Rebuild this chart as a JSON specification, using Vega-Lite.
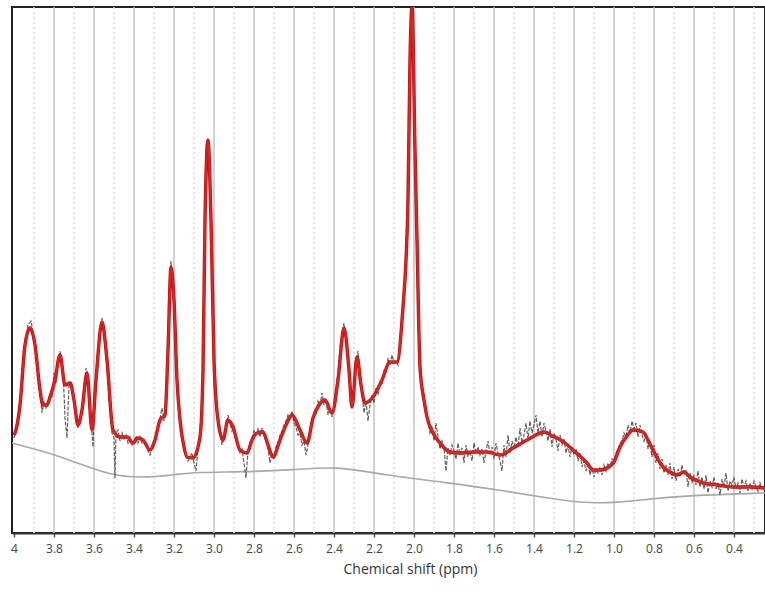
{
  "$schema": "https://vega.github.io/schema/vega-lite/v6.json",
  "width": 753,
  "height": 526,
  "autosize": {"type": "none"},
  "padding": {"left": 12, "top": 7, "right": 0, "bottom": 62},
  "background": "white",
  "config": {
    "view": {"stroke": "#222", "strokeWidth": 2},
    "font": "Open Sans"
  },
  "datasets": {
    "grid": [
      {"ppm": 3.9, "kind": "minor"}, {"ppm": 3.8, "kind": "major"}, {"ppm": 3.7, "kind": "minor"}, {"ppm": 3.6, "kind": "major"},
      {"ppm": 3.5, "kind": "minor"}, {"ppm": 3.4, "kind": "major"}, {"ppm": 3.3, "kind": "minor"}, {"ppm": 3.2, "kind": "major"},
      {"ppm": 3.1, "kind": "minor"}, {"ppm": 3.0, "kind": "major"}, {"ppm": 2.9, "kind": "minor"}, {"ppm": 2.8, "kind": "major"},
      {"ppm": 2.7, "kind": "minor"}, {"ppm": 2.6, "kind": "major"}, {"ppm": 2.5, "kind": "minor"}, {"ppm": 2.4, "kind": "major"},
      {"ppm": 2.3, "kind": "minor"}, {"ppm": 2.2, "kind": "major"}, {"ppm": 2.1, "kind": "minor"}, {"ppm": 2.0, "kind": "major"},
      {"ppm": 1.9, "kind": "minor"}, {"ppm": 1.8, "kind": "major"}, {"ppm": 1.7, "kind": "minor"}, {"ppm": 1.6, "kind": "major"},
      {"ppm": 1.5, "kind": "minor"}, {"ppm": 1.4, "kind": "major"}, {"ppm": 1.3, "kind": "minor"}, {"ppm": 1.2, "kind": "major"},
      {"ppm": 1.1, "kind": "minor"}, {"ppm": 1.0, "kind": "major"}, {"ppm": 0.9, "kind": "minor"}, {"ppm": 0.8, "kind": "major"},
      {"ppm": 0.7, "kind": "minor"}, {"ppm": 0.6, "kind": "major"}, {"ppm": 0.5, "kind": "minor"}, {"ppm": 0.4, "kind": "major"},
      {"ppm": 0.3, "kind": "minor"}
    ],
    "base": [
      {"ppm": 4.01, "y": 90}, {"ppm": 3.82, "y": 80}, {"ppm": 3.685, "y": 70}, {"ppm": 3.52, "y": 58}, {"ppm": 3.37, "y": 55},
      {"ppm": 3.2, "y": 58}, {"ppm": 3.095, "y": 61}, {"ppm": 2.855, "y": 61}, {"ppm": 2.605, "y": 63}, {"ppm": 2.385, "y": 67},
      {"ppm": 2.155, "y": 58}, {"ppm": 1.82, "y": 50}, {"ppm": 1.57, "y": 43}, {"ppm": 1.37, "y": 36}, {"ppm": 1.17, "y": 30},
      {"ppm": 0.985, "y": 30}, {"ppm": 0.785, "y": 35}, {"ppm": 0.57, "y": 38}, {"ppm": 0.245, "y": 40}
    ],
    "fit": [
      {"ppm": 4.0, "y": 98}, {"ppm": 3.995, "y": 100}, {"ppm": 3.97, "y": 128}, {"ppm": 3.945, "y": 188}, {"ppm": 3.92, "y": 205},
      {"ppm": 3.895, "y": 188}, {"ppm": 3.87, "y": 143}, {"ppm": 3.855, "y": 128}, {"ppm": 3.835, "y": 128}, {"ppm": 3.82, "y": 136},
      {"ppm": 3.795, "y": 153}, {"ppm": 3.77, "y": 178}, {"ppm": 3.745, "y": 148}, {"ppm": 3.72, "y": 150}, {"ppm": 3.7, "y": 133},
      {"ppm": 3.68, "y": 108}, {"ppm": 3.66, "y": 123}, {"ppm": 3.635, "y": 160}, {"ppm": 3.61, "y": 103}, {"ppm": 3.59, "y": 153},
      {"ppm": 3.56, "y": 211}, {"ppm": 3.535, "y": 173}, {"ppm": 3.505, "y": 103}, {"ppm": 3.47, "y": 96}, {"ppm": 3.435, "y": 96},
      {"ppm": 3.405, "y": 90}, {"ppm": 3.38, "y": 95}, {"ppm": 3.355, "y": 93}, {"ppm": 3.32, "y": 83}, {"ppm": 3.295, "y": 93},
      {"ppm": 3.27, "y": 113}, {"ppm": 3.245, "y": 118}, {"ppm": 3.23, "y": 183}, {"ppm": 3.215, "y": 266}, {"ppm": 3.2, "y": 233},
      {"ppm": 3.185, "y": 153}, {"ppm": 3.17, "y": 113}, {"ppm": 3.15, "y": 86}, {"ppm": 3.135, "y": 76}, {"ppm": 3.105, "y": 75},
      {"ppm": 3.07, "y": 96}, {"ppm": 3.055, "y": 163}, {"ppm": 3.045, "y": 313}, {"ppm": 3.03, "y": 393}, {"ppm": 3.015, "y": 313},
      {"ppm": 3.0, "y": 173}, {"ppm": 2.98, "y": 113}, {"ppm": 2.955, "y": 93}, {"ppm": 2.93, "y": 113}, {"ppm": 2.905, "y": 106},
      {"ppm": 2.87, "y": 83}, {"ppm": 2.835, "y": 80}, {"ppm": 2.81, "y": 93}, {"ppm": 2.785, "y": 100}, {"ppm": 2.755, "y": 101},
      {"ppm": 2.73, "y": 88}, {"ppm": 2.705, "y": 76}, {"ppm": 2.67, "y": 93}, {"ppm": 2.64, "y": 108}, {"ppm": 2.61, "y": 118},
      {"ppm": 2.57, "y": 103}, {"ppm": 2.535, "y": 90}, {"ppm": 2.505, "y": 115}, {"ppm": 2.475, "y": 128}, {"ppm": 2.445, "y": 133},
      {"ppm": 2.41, "y": 120}, {"ppm": 2.38, "y": 153}, {"ppm": 2.35, "y": 205}, {"ppm": 2.325, "y": 163}, {"ppm": 2.31, "y": 126},
      {"ppm": 2.285, "y": 176}, {"ppm": 2.265, "y": 148}, {"ppm": 2.245, "y": 130}, {"ppm": 2.205, "y": 136}, {"ppm": 2.16, "y": 153},
      {"ppm": 2.12, "y": 171}, {"ppm": 2.085, "y": 171}, {"ppm": 2.055, "y": 226}, {"ppm": 2.04, "y": 273}, {"ppm": 2.03, "y": 333},
      {"ppm": 2.02, "y": 473}, {"ppm": 2.01, "y": 526}, {"ppm": 1.995, "y": 383}, {"ppm": 1.985, "y": 293}, {"ppm": 1.97, "y": 166},
      {"ppm": 1.95, "y": 133}, {"ppm": 1.935, "y": 116}, {"ppm": 1.905, "y": 100}, {"ppm": 1.87, "y": 90}, {"ppm": 1.82, "y": 81},
      {"ppm": 1.77, "y": 80}, {"ppm": 1.705, "y": 81}, {"ppm": 1.635, "y": 81}, {"ppm": 1.57, "y": 78}, {"ppm": 1.505, "y": 85},
      {"ppm": 1.435, "y": 93}, {"ppm": 1.345, "y": 101}, {"ppm": 1.31, "y": 97}, {"ppm": 1.285, "y": 95}, {"ppm": 1.245, "y": 90},
      {"ppm": 1.205, "y": 83}, {"ppm": 1.135, "y": 70}, {"ppm": 1.105, "y": 63}, {"ppm": 1.07, "y": 63}, {"ppm": 1.035, "y": 65},
      {"ppm": 1.0, "y": 71}, {"ppm": 0.97, "y": 86}, {"ppm": 0.935, "y": 97}, {"ppm": 0.905, "y": 103}, {"ppm": 0.855, "y": 101},
      {"ppm": 0.83, "y": 93}, {"ppm": 0.805, "y": 83}, {"ppm": 0.755, "y": 66}, {"ppm": 0.72, "y": 61}, {"ppm": 0.685, "y": 58},
      {"ppm": 0.65, "y": 61}, {"ppm": 0.62, "y": 56}, {"ppm": 0.57, "y": 51}, {"ppm": 0.485, "y": 48}, {"ppm": 0.405, "y": 46},
      {"ppm": 0.32, "y": 46}, {"ppm": 0.245, "y": 45}
    ],
    "raw": [
      {"ppm": 4.0, "y": 95}, {"ppm": 3.99, "y": 104}, {"ppm": 3.975, "y": 120}, {"ppm": 3.96, "y": 150}, {"ppm": 3.945, "y": 190},
      {"ppm": 3.93, "y": 208}, {"ppm": 3.915, "y": 212}, {"ppm": 3.9, "y": 195}, {"ppm": 3.885, "y": 170}, {"ppm": 3.87, "y": 140},
      {"ppm": 3.86, "y": 120}, {"ppm": 3.85, "y": 132}, {"ppm": 3.84, "y": 125}, {"ppm": 3.83, "y": 130}, {"ppm": 3.82, "y": 140},
      {"ppm": 3.81, "y": 135}, {"ppm": 3.8, "y": 160}, {"ppm": 3.79, "y": 150}, {"ppm": 3.78, "y": 168}, {"ppm": 3.77, "y": 182},
      {"ppm": 3.76, "y": 170}, {"ppm": 3.75, "y": 140}, {"ppm": 3.745, "y": 115}, {"ppm": 3.735, "y": 95}, {"ppm": 3.725, "y": 148},
      {"ppm": 3.715, "y": 150}, {"ppm": 3.7, "y": 130}, {"ppm": 3.69, "y": 118}, {"ppm": 3.68, "y": 105}, {"ppm": 3.67, "y": 115},
      {"ppm": 3.66, "y": 125}, {"ppm": 3.65, "y": 145}, {"ppm": 3.64, "y": 165}, {"ppm": 3.63, "y": 158}, {"ppm": 3.62, "y": 120},
      {"ppm": 3.61, "y": 100}, {"ppm": 3.605, "y": 86}, {"ppm": 3.595, "y": 140}, {"ppm": 3.58, "y": 175}, {"ppm": 3.57, "y": 200},
      {"ppm": 3.56, "y": 215}, {"ppm": 3.55, "y": 205}, {"ppm": 3.54, "y": 180}, {"ppm": 3.53, "y": 150}, {"ppm": 3.52, "y": 120},
      {"ppm": 3.51, "y": 100}, {"ppm": 3.5, "y": 95}, {"ppm": 3.495, "y": 55}, {"ppm": 3.49, "y": 100}, {"ppm": 3.48, "y": 103},
      {"ppm": 3.47, "y": 92}, {"ppm": 3.46, "y": 100}, {"ppm": 3.45, "y": 94}, {"ppm": 3.44, "y": 98}, {"ppm": 3.43, "y": 90},
      {"ppm": 3.42, "y": 96}, {"ppm": 3.41, "y": 88}, {"ppm": 3.4, "y": 92}, {"ppm": 3.39, "y": 97}, {"ppm": 3.38, "y": 90},
      {"ppm": 3.37, "y": 96}, {"ppm": 3.36, "y": 90}, {"ppm": 3.35, "y": 93}, {"ppm": 3.34, "y": 88}, {"ppm": 3.33, "y": 82},
      {"ppm": 3.32, "y": 78}, {"ppm": 3.31, "y": 88}, {"ppm": 3.3, "y": 92}, {"ppm": 3.29, "y": 96}, {"ppm": 3.28, "y": 106},
      {"ppm": 3.27, "y": 115}, {"ppm": 3.26, "y": 125}, {"ppm": 3.25, "y": 112}, {"ppm": 3.24, "y": 120}, {"ppm": 3.23, "y": 180},
      {"ppm": 3.22, "y": 260}, {"ppm": 3.215, "y": 272}, {"ppm": 3.21, "y": 255}, {"ppm": 3.2, "y": 230}, {"ppm": 3.19, "y": 180},
      {"ppm": 3.18, "y": 140}, {"ppm": 3.17, "y": 110}, {"ppm": 3.16, "y": 95}, {"ppm": 3.15, "y": 84}, {"ppm": 3.14, "y": 78},
      {"ppm": 3.13, "y": 72}, {"ppm": 3.12, "y": 76}, {"ppm": 3.11, "y": 80}, {"ppm": 3.1, "y": 70}, {"ppm": 3.09, "y": 62},
      {"ppm": 3.08, "y": 85}, {"ppm": 3.07, "y": 98}, {"ppm": 3.06, "y": 130}, {"ppm": 3.05, "y": 230}, {"ppm": 3.04, "y": 340},
      {"ppm": 3.03, "y": 392}, {"ppm": 3.02, "y": 350}, {"ppm": 3.01, "y": 280}, {"ppm": 3.0, "y": 175}, {"ppm": 2.99, "y": 130},
      {"ppm": 2.98, "y": 108}, {"ppm": 2.97, "y": 98}, {"ppm": 2.96, "y": 88}, {"ppm": 2.95, "y": 96}, {"ppm": 2.94, "y": 104},
      {"ppm": 2.93, "y": 118}, {"ppm": 2.92, "y": 110}, {"ppm": 2.91, "y": 102}, {"ppm": 2.9, "y": 108}, {"ppm": 2.89, "y": 95},
      {"ppm": 2.88, "y": 86}, {"ppm": 2.87, "y": 80}, {"ppm": 2.86, "y": 84}, {"ppm": 2.85, "y": 70}, {"ppm": 2.84, "y": 55},
      {"ppm": 2.83, "y": 82}, {"ppm": 2.82, "y": 88}, {"ppm": 2.81, "y": 95}, {"ppm": 2.8, "y": 102}, {"ppm": 2.79, "y": 98},
      {"ppm": 2.78, "y": 104}, {"ppm": 2.77, "y": 96}, {"ppm": 2.76, "y": 105}, {"ppm": 2.75, "y": 98}, {"ppm": 2.74, "y": 92},
      {"ppm": 2.73, "y": 84}, {"ppm": 2.72, "y": 70}, {"ppm": 2.71, "y": 80}, {"ppm": 2.7, "y": 74}, {"ppm": 2.69, "y": 86},
      {"ppm": 2.68, "y": 90}, {"ppm": 2.67, "y": 98}, {"ppm": 2.66, "y": 102}, {"ppm": 2.65, "y": 108}, {"ppm": 2.64, "y": 112},
      {"ppm": 2.63, "y": 118}, {"ppm": 2.62, "y": 114}, {"ppm": 2.61, "y": 122}, {"ppm": 2.6, "y": 110}, {"ppm": 2.59, "y": 106},
      {"ppm": 2.58, "y": 98}, {"ppm": 2.57, "y": 100}, {"ppm": 2.56, "y": 88}, {"ppm": 2.55, "y": 92}, {"ppm": 2.54, "y": 78},
      {"ppm": 2.53, "y": 88}, {"ppm": 2.52, "y": 102}, {"ppm": 2.51, "y": 112}, {"ppm": 2.5, "y": 120}, {"ppm": 2.49, "y": 118},
      {"ppm": 2.48, "y": 132}, {"ppm": 2.47, "y": 128}, {"ppm": 2.46, "y": 140}, {"ppm": 2.45, "y": 128}, {"ppm": 2.44, "y": 134},
      {"ppm": 2.43, "y": 118}, {"ppm": 2.42, "y": 124}, {"ppm": 2.41, "y": 116}, {"ppm": 2.4, "y": 130}, {"ppm": 2.39, "y": 145},
      {"ppm": 2.38, "y": 160}, {"ppm": 2.37, "y": 185}, {"ppm": 2.36, "y": 200}, {"ppm": 2.35, "y": 210}, {"ppm": 2.34, "y": 195},
      {"ppm": 2.33, "y": 170}, {"ppm": 2.32, "y": 140}, {"ppm": 2.31, "y": 125}, {"ppm": 2.3, "y": 140}, {"ppm": 2.29, "y": 170},
      {"ppm": 2.28, "y": 182}, {"ppm": 2.27, "y": 160}, {"ppm": 2.26, "y": 140}, {"ppm": 2.25, "y": 120}, {"ppm": 2.24, "y": 132},
      {"ppm": 2.23, "y": 112}, {"ppm": 2.22, "y": 128}, {"ppm": 2.21, "y": 138}, {"ppm": 2.2, "y": 130}, {"ppm": 2.19, "y": 145},
      {"ppm": 2.18, "y": 138}, {"ppm": 2.17, "y": 150}, {"ppm": 2.16, "y": 148}, {"ppm": 2.15, "y": 162}, {"ppm": 2.14, "y": 160},
      {"ppm": 2.13, "y": 175}, {"ppm": 2.12, "y": 168}, {"ppm": 2.11, "y": 178}, {"ppm": 2.1, "y": 170}, {"ppm": 2.09, "y": 172},
      {"ppm": 2.08, "y": 168}, {"ppm": 2.07, "y": 190}, {"ppm": 2.06, "y": 205}, {"ppm": 2.05, "y": 235}, {"ppm": 2.04, "y": 280},
      {"ppm": 2.03, "y": 340}, {"ppm": 2.02, "y": 470}, {"ppm": 2.01, "y": 526}, {"ppm": 2.0, "y": 430}, {"ppm": 1.99, "y": 330},
      {"ppm": 1.98, "y": 230}, {"ppm": 1.97, "y": 160}, {"ppm": 1.96, "y": 140}, {"ppm": 1.95, "y": 130}, {"ppm": 1.94, "y": 118},
      {"ppm": 1.93, "y": 112}, {"ppm": 1.92, "y": 100}, {"ppm": 1.91, "y": 105}, {"ppm": 1.9, "y": 92}, {"ppm": 1.89, "y": 110},
      {"ppm": 1.88, "y": 96}, {"ppm": 1.87, "y": 84}, {"ppm": 1.86, "y": 92}, {"ppm": 1.85, "y": 86}, {"ppm": 1.84, "y": 62},
      {"ppm": 1.83, "y": 85}, {"ppm": 1.82, "y": 78}, {"ppm": 1.81, "y": 88}, {"ppm": 1.8, "y": 82}, {"ppm": 1.79, "y": 74},
      {"ppm": 1.78, "y": 90}, {"ppm": 1.77, "y": 78}, {"ppm": 1.76, "y": 85}, {"ppm": 1.75, "y": 70}, {"ppm": 1.74, "y": 88},
      {"ppm": 1.73, "y": 76}, {"ppm": 1.72, "y": 82}, {"ppm": 1.71, "y": 72}, {"ppm": 1.7, "y": 90}, {"ppm": 1.69, "y": 80},
      {"ppm": 1.68, "y": 86}, {"ppm": 1.67, "y": 78}, {"ppm": 1.66, "y": 84}, {"ppm": 1.65, "y": 70}, {"ppm": 1.64, "y": 82},
      {"ppm": 1.63, "y": 92}, {"ppm": 1.62, "y": 78}, {"ppm": 1.61, "y": 86}, {"ppm": 1.6, "y": 74}, {"ppm": 1.59, "y": 90},
      {"ppm": 1.58, "y": 80}, {"ppm": 1.57, "y": 72}, {"ppm": 1.56, "y": 62}, {"ppm": 1.55, "y": 88}, {"ppm": 1.54, "y": 76},
      {"ppm": 1.53, "y": 98}, {"ppm": 1.52, "y": 80}, {"ppm": 1.51, "y": 92}, {"ppm": 1.5, "y": 84}, {"ppm": 1.49, "y": 96},
      {"ppm": 1.48, "y": 86}, {"ppm": 1.47, "y": 105}, {"ppm": 1.46, "y": 90}, {"ppm": 1.45, "y": 98}, {"ppm": 1.44, "y": 110},
      {"ppm": 1.43, "y": 94}, {"ppm": 1.42, "y": 112}, {"ppm": 1.41, "y": 100}, {"ppm": 1.4, "y": 108}, {"ppm": 1.39, "y": 118},
      {"ppm": 1.38, "y": 100}, {"ppm": 1.37, "y": 112}, {"ppm": 1.36, "y": 96}, {"ppm": 1.35, "y": 110}, {"ppm": 1.34, "y": 102},
      {"ppm": 1.33, "y": 92}, {"ppm": 1.32, "y": 104}, {"ppm": 1.31, "y": 86}, {"ppm": 1.3, "y": 100}, {"ppm": 1.29, "y": 94},
      {"ppm": 1.28, "y": 82}, {"ppm": 1.27, "y": 98}, {"ppm": 1.26, "y": 88}, {"ppm": 1.25, "y": 94}, {"ppm": 1.24, "y": 80},
      {"ppm": 1.23, "y": 88}, {"ppm": 1.22, "y": 76}, {"ppm": 1.21, "y": 86}, {"ppm": 1.2, "y": 78}, {"ppm": 1.19, "y": 84},
      {"ppm": 1.18, "y": 72}, {"ppm": 1.17, "y": 80}, {"ppm": 1.16, "y": 66}, {"ppm": 1.15, "y": 72}, {"ppm": 1.14, "y": 62},
      {"ppm": 1.13, "y": 70}, {"ppm": 1.12, "y": 58}, {"ppm": 1.11, "y": 66}, {"ppm": 1.1, "y": 56}, {"ppm": 1.09, "y": 64},
      {"ppm": 1.08, "y": 60}, {"ppm": 1.07, "y": 66}, {"ppm": 1.06, "y": 58}, {"ppm": 1.05, "y": 68}, {"ppm": 1.04, "y": 62},
      {"ppm": 1.03, "y": 70}, {"ppm": 1.02, "y": 66}, {"ppm": 1.01, "y": 74}, {"ppm": 1.0, "y": 72}, {"ppm": 0.99, "y": 80},
      {"ppm": 0.98, "y": 84}, {"ppm": 0.97, "y": 90}, {"ppm": 0.96, "y": 92}, {"ppm": 0.95, "y": 100}, {"ppm": 0.94, "y": 96},
      {"ppm": 0.93, "y": 108}, {"ppm": 0.92, "y": 100}, {"ppm": 0.91, "y": 112}, {"ppm": 0.9, "y": 104}, {"ppm": 0.89, "y": 110},
      {"ppm": 0.88, "y": 96}, {"ppm": 0.87, "y": 108}, {"ppm": 0.86, "y": 98}, {"ppm": 0.85, "y": 92}, {"ppm": 0.84, "y": 100},
      {"ppm": 0.83, "y": 84}, {"ppm": 0.82, "y": 92}, {"ppm": 0.81, "y": 76}, {"ppm": 0.8, "y": 88}, {"ppm": 0.79, "y": 70},
      {"ppm": 0.78, "y": 80}, {"ppm": 0.77, "y": 64}, {"ppm": 0.76, "y": 74}, {"ppm": 0.75, "y": 60}, {"ppm": 0.74, "y": 68},
      {"ppm": 0.73, "y": 58}, {"ppm": 0.72, "y": 70}, {"ppm": 0.71, "y": 54}, {"ppm": 0.7, "y": 66}, {"ppm": 0.69, "y": 52},
      {"ppm": 0.68, "y": 64}, {"ppm": 0.67, "y": 56}, {"ppm": 0.66, "y": 68}, {"ppm": 0.65, "y": 58}, {"ppm": 0.64, "y": 62},
      {"ppm": 0.63, "y": 46}, {"ppm": 0.62, "y": 60}, {"ppm": 0.61, "y": 50}, {"ppm": 0.6, "y": 58}, {"ppm": 0.59, "y": 48},
      {"ppm": 0.58, "y": 62}, {"ppm": 0.57, "y": 46}, {"ppm": 0.56, "y": 56}, {"ppm": 0.55, "y": 44}, {"ppm": 0.54, "y": 58},
      {"ppm": 0.53, "y": 40}, {"ppm": 0.52, "y": 52}, {"ppm": 0.51, "y": 46}, {"ppm": 0.5, "y": 56}, {"ppm": 0.49, "y": 44},
      {"ppm": 0.48, "y": 50}, {"ppm": 0.47, "y": 38}, {"ppm": 0.46, "y": 54}, {"ppm": 0.45, "y": 46}, {"ppm": 0.44, "y": 60},
      {"ppm": 0.43, "y": 42}, {"ppm": 0.42, "y": 52}, {"ppm": 0.41, "y": 48}, {"ppm": 0.4, "y": 56}, {"ppm": 0.39, "y": 44},
      {"ppm": 0.38, "y": 50}, {"ppm": 0.37, "y": 40}, {"ppm": 0.36, "y": 54}, {"ppm": 0.35, "y": 46}, {"ppm": 0.34, "y": 52},
      {"ppm": 0.33, "y": 42}, {"ppm": 0.32, "y": 50}, {"ppm": 0.31, "y": 44}, {"ppm": 0.3, "y": 52}, {"ppm": 0.29, "y": 46},
      {"ppm": 0.28, "y": 42}, {"ppm": 0.27, "y": 50}, {"ppm": 0.26, "y": 44}, {"ppm": 0.25, "y": 48}
    ]
  },
  "encoding": {
    "x": {
      "field": "ppm",
      "type": "quantitative",
      "scale": {"domain": [0.245, 4.01], "reverse": true, "nice": false, "zero": false},
      "axis": {
        "title": "Chemical shift (ppm)",
        "values": [4, 3.8, 3.6, 3.4, 3.2, 3.0, 2.8, 2.6, 2.4, 2.2, 2.0, 1.8, 1.6, 1.4, 1.2, 1.0, 0.8, 0.6, 0.4],
        "labelExpr": "datum.value == 4 ? '4' : format(datum.value, '.1f')",
        "grid": false,
        "domainColor": "#333",
        "domainWidth": 2,
        "tickColor": "#555",
        "tickSize": 4,
        "tickWidth": 1.5,
        "labelFont": "Open Sans",
        "labelFontSize": 12,
        "labelColor": "#444",
        "labelPadding": 6,
        "titleFont": "Open Sans",
        "titleFontSize": 14,
        "titleFontWeight": "normal",
        "titleColor": "#333",
        "titleX": 398,
        "titlePadding": 8
      }
    }
  },
  "layer": [
    {
      "data": {"name": "grid"},
      "mark": {"type": "rule", "strokeWidth": 1.5},
      "encoding": {
        "color": {"field": "kind", "type": "nominal", "scale": {"domain": ["major", "minor"], "range": ["#c4c4c4", "#dcdcdc"]}, "legend": null},
        "strokeDash": {"field": "kind", "type": "nominal", "scale": {"domain": ["major", "minor"], "range": [[1, 0], [2, 3]]}, "legend": null}
      }
    },
    {
      "data": {"name": "base"},
      "mark": {"type": "line", "color": "#a8a8a8", "strokeWidth": 1.6, "interpolate": "basis", "clip": true},
      "encoding": {
        "y": {"field": "y", "type": "quantitative", "scale": {"domain": [0, 526], "nice": false, "zero": false}, "axis": null}
      }
    },
    {
      "data": {"name": "raw"},
      "mark": {"type": "line", "color": "#444444", "strokeWidth": 1.2, "strokeDash": [4, 1.5], "opacity": 0.85, "clip": true},
      "encoding": {
        "y": {"field": "y", "type": "quantitative", "scale": {"domain": [0, 526], "nice": false, "zero": false}, "axis": null}
      }
    },
    {
      "data": {"name": "fit"},
      "mark": {"type": "line", "color": "#b01414", "strokeWidth": 3.4, "interpolate": "monotone", "clip": true},
      "encoding": {
        "y": {"field": "y", "type": "quantitative", "scale": {"domain": [0, 526], "nice": false, "zero": false}, "axis": null}
      }
    },
    {
      "data": {"name": "fit"},
      "mark": {"type": "line", "color": "#e8201e", "strokeWidth": 2, "interpolate": "monotone", "clip": true},
      "encoding": {
        "y": {"field": "y", "type": "quantitative", "scale": {"domain": [0, 526], "nice": false, "zero": false}, "axis": null}
      }
    }
  ]
}
